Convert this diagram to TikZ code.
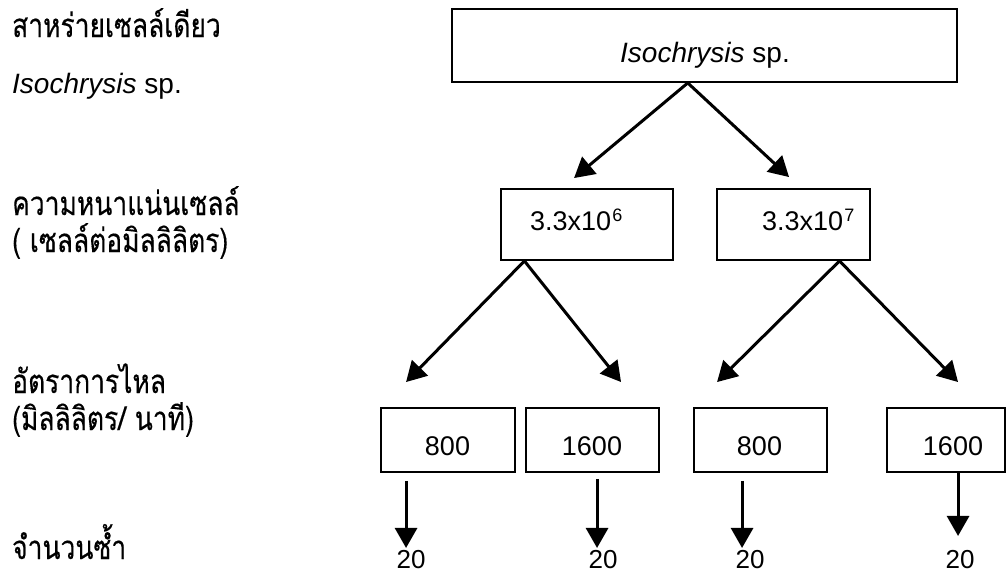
\documentclass[tikz,border=0pt]{standalone}
\usepackage{fontspec}
\setmainfont{Liberation Sans}
\newfontfamily\thaifont[Script=Thai,FakeStretch=0.8,FakeBold=0.3]{Loma}
\usetikzlibrary{arrows.meta,calc}
\newcommand{\supx}[1]{\hspace{1pt}\raisebox{9pt}{\fontsize{18}{20}\selectfont #1}}
\begin{document}
\begin{tikzpicture}[x=1pt,y=-1pt,
  box/.style={draw, line width=1.9pt, inner sep=0pt},
  arr/.style={line width=3pt, -{Triangle[length=20pt,width=22pt]}},
  thai/.style={anchor=base west, inner sep=0pt, font=\thaifont\fontsize{33}{36}\selectfont},
  latin/.style={anchor=base west, inner sep=0pt, font=\fontsize{28}{32}\selectfont},
  num/.style={anchor=base, inner sep=0pt, font=\fontsize{27}{32}\selectfont},
  rep/.style={anchor=base, inner sep=0pt, font=\fontsize{26}{30}\selectfont},
]
\useasboundingbox (0,0) rectangle (1007,573);

% left labels
\node[thai]  (l1) at (12,37)  {สาหร่ายเซลล์เดียว};
\node[latin] (l2) at (12,93)  {\textit{Isochrysis} sp.};
\node[thai]  (l3) at (12,215) {ความหนาแน่นเซลล์};
\node[thai]  (l4) at (12,252) {( เซลล์ต่อมิลลิลิตร)};
\node[thai]  (l5) at (12,393) {อัตราการไหล};
\node[thai]  (l6) at (12,430) {(มิลลิลิตร/ นาที)};
\node[thai]  (l7) at (12,559) {จำนวนซ้ำ};

% boxes
\node[box, minimum width=505pt, minimum height=73pt] (top) at (704.5,45.5) {};
\node[box, minimum width=172pt, minimum height=71pt] (b1) at (587,224.5) {};
\node[box, minimum width=153pt, minimum height=71pt] (b2) at (793.5,224.5) {};
\node[box, minimum width=134pt, minimum height=64pt] (cA) at (448,440) {};
\node[box, minimum width=133pt, minimum height=64pt] (cB) at (592.5,440) {};
\node[box, minimum width=133pt, minimum height=64pt] (cC) at (760.5,440) {};
\node[box, minimum width=118pt, minimum height=64pt] (cD) at (946,440) {};

% box texts
\node[anchor=base, inner sep=0pt, font=\fontsize{28}{32}\selectfont] (tt) at (705,62) {\textit{Isochrysis} sp.};
\node[num, anchor=base west] (t1) at (530,230) {3.3x10\supx{6}};
\node[num, anchor=base west] (t2) at (762,230) {3.3x10\supx{7}};
\node[num] (tA) at (447.5,455) {800};
\node[num] (tB) at (592,455) {1600};
\node[num] (tC) at (759.5,455) {800};
\node[num] (tD) at (953,455) {1600};

% replicate labels
\node[rep] (rA) at (411,568) {20};
\node[rep] (rB) at (603,568) {20};
\node[rep] (rC) at (750,568) {20};
\node[rep] (rD) at (960,568) {20};

% connectors
\coordinate (s0) at ($(top.south west)!0.467!(top.south east)$);
\coordinate (s1) at ($(b1.south west)!0.14!(b1.south east)$);
\coordinate (s2) at ($(b2.south west)!0.797!(b2.south east)$);

\draw[arr] (s0) -- ($(b1.north west)+(74,-10)$);
\draw[arr] (s0) -- ($(b2.north west)+(73,-11)$);

\draw[arr] (s1) -- ($(cA.north west)+(26,-25)$);
\draw[arr] (s1) -- ($(cB.north west)+(96,-25)$);
\draw[arr] (s2) -- ($(cC.north west)+(24,-25)$);
\draw[arr] (s2) -- ($(cD.north west)+(72,-25)$);

\draw[arr] ($(cA.south west)+(26,8)$) -- ($(cA.south west)+(26,75)$);
\draw[arr] ($(cB.south west)+(72,6)$) -- ($(cB.south west)+(72,75)$);
\draw[arr] ($(cC.south west)+(49,8)$) -- ($(cC.south west)+(49,75)$);
\draw[arr] ($(cD.south west)+(72,0)$) -- ($(cD.south west)+(72,63)$);
\end{tikzpicture}
\end{document}
